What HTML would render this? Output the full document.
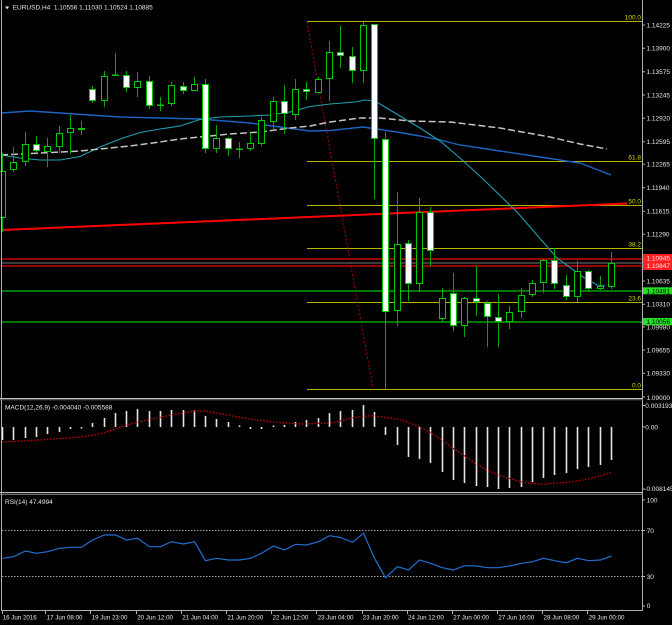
<!DOCTYPE html>
<html><head><meta charset="utf-8"><style>
html,body{margin:0;padding:0;background:#000;}
svg{display:block;}
text{font-family:"Liberation Sans",sans-serif;font-size:6.5px;fill:#e8e8e8;white-space:pre;}
.wk{stroke:#00a800;stroke-width:1;fill:none;}
.u{fill:#fff;stroke:#00c800;stroke-width:1;}
.d{fill:#000;stroke:#00c800;stroke-width:1;}
.dj{fill:#00c800;}
.fib{stroke:#b4b400;stroke-width:1;}
.fl{fill:#d8d800;}
.ax{stroke:#b0b0b0;stroke-width:1;}
</style></head><body>
<svg width="672" height="625" viewBox="0 0 672 625" xmlns="http://www.w3.org/2000/svg">
<rect x="0" y="0" width="672" height="625" fill="#000"/>

<!-- Fibonacci levels -->
<g class="fib">
<line x1="307" y1="21.5" x2="642" y2="21.5"/>
<line x1="307" y1="161.5" x2="642" y2="161.5"/>
<line x1="307" y1="205.5" x2="642" y2="205.5"/>
<line x1="307" y1="248.5" x2="642" y2="248.5"/>
<line x1="307" y1="302.5" x2="642" y2="302.5"/>
<line x1="307" y1="389.5" x2="642" y2="389.5"/>
</g>
<line x1="307" y1="22" x2="373" y2="388" stroke="#b00000" stroke-width="1" stroke-dasharray="2 2"/>

<!-- horizontal lines -->
<line x1="2" y1="259" x2="642" y2="259" stroke="#990000" stroke-width="2"/>
<line x1="2" y1="266" x2="642" y2="266" stroke="#990000" stroke-width="2"/>
<line x1="2" y1="263" x2="642" y2="263" stroke="#787878" stroke-width="1"/>
<line x1="2" y1="291" x2="642" y2="291" stroke="#00c000" stroke-width="1.2"/>
<line x1="2" y1="322" x2="642" y2="322" stroke="#00c000" stroke-width="1.2"/>

<!-- red trendline -->
<line x1="2" y1="230" x2="627" y2="203.5" stroke="#ff0000" stroke-width="2"/>

<!-- MAs -->
<polyline fill="none" stroke="#1c64c4" stroke-width="1.4" points="1,113 30,111 60,113 90,115 120,117 160,118 200,119 250,123 280,127 310,131 330,130.5 363,127 380,129.5 400,132.5 420,136 440,140 460,145 500,151 540,157 580,163 611,175"/>
<polyline fill="none" stroke="#20a0b0" stroke-width="1.1" points="1,155 20,158 40,160 60,160 80,156.5 100,147 120,139 140,132.5 160,129 180,126 200,119.5 220,117 250,116 270,115 290,112 310,106.5 330,104 355,102 365,100 375,101 385,107 400,116 420,128 440,141 460,158 482,178 517,212 557,258 583,277 597,285 605,286"/>
<polyline fill="none" stroke="#c4c4c4" stroke-width="1.5" stroke-dasharray="7 3" points="1,155 40,153 80,151 100,149 130,146 160,142 180,139 200,137 230,134 260,132 290,128 310,126 330,122 360,118 380,118 410,121 450,122 500,128 550,137 580,144 607,149"/>

<!-- wicks -->
<path class="wk" d="M2.5 153V232M13.5 147V172M25.5 132V166M36.5 136V152M47.5 138V167M59.5 126V153M70.5 115V154M81.5 121V135M92.5 86V103M104.5 71V107M115.5 53V75M126.5 71V92M137.5 72V97M149.5 76V109M160.5 97V111M171.5 82V106M183.5 82V94M194.5 77V91M205.5 79V153M216.5 125V153M228.5 137V156M239.5 142V158M250.5 133V151M261.5 117V146M273.5 97V129M284.5 85V134M295.5 79V120M306.5 82V100M318.5 77V93M329.5 41V101M340.5 26V68M352.5 47V83M363.5 22V83M374.5 24V199M385.5 132V389M397.5 192V326M408.5 240V301M419.5 198V292M430.5 207V266M442.5 288V322M453.5 273V331M464.5 297V337M476.5 266V316M487.5 301V347M498.5 294V347M509.5 306V329M521.5 288V318M532.5 280V297M543.5 259V293M554.5 248V289M566.5 275V300M577.5 261V302M588.5 270V292M600.5 276V290M611.5 252V289"/>

<!-- bodies -->
<rect class="d" x="-0.5" y="171.5" width="6" height="46"/>
<rect class="d" x="10.5" y="162.5" width="6" height="7"/>
<rect class="d" x="22.5" y="144.5" width="6" height="17"/>
<rect class="u" x="33.5" y="144.5" width="6" height="6"/>
<rect class="d" x="44.5" y="146.5" width="6" height="5"/>
<rect class="d" x="56.5" y="133.5" width="6" height="13"/>
<rect class="d" x="67.5" y="128.5" width="6" height="4"/>
<rect class="u" x="78.5" y="128.5" width="6" height="1"/>
<rect class="u" x="89.5" y="89.5" width="6" height="11"/>
<rect class="d" x="101.5" y="76.5" width="6" height="24"/>
<rect class="dj" x="112" y="74.5" width="7" height="1.5"/>
<rect class="u" x="123.5" y="75.5" width="6" height="12"/>
<rect class="d" x="134.5" y="81.5" width="6" height="6"/>
<rect class="u" x="146.5" y="81.5" width="6" height="24"/>
<rect class="dj" x="157" y="104.5" width="7" height="1.5"/>
<rect class="d" x="168.5" y="85.5" width="6" height="18"/>
<rect class="u" x="180.5" y="86.5" width="6" height="4"/>
<rect class="d" x="191.5" y="84.5" width="6" height="6"/>
<rect class="u" x="202.5" y="84.5" width="6" height="64"/>
<rect class="d" x="213.5" y="138.5" width="6" height="10"/>
<rect class="u" x="225.5" y="138.5" width="6" height="10"/>
<rect class="dj" x="236" y="148.5" width="7" height="1.5"/>
<rect class="d" x="247.5" y="143.5" width="6" height="5"/>
<rect class="d" x="258.5" y="120.5" width="6" height="23"/>
<rect class="d" x="270.5" y="101.5" width="6" height="20"/>
<rect class="u" x="281.5" y="101.5" width="6" height="12"/>
<rect class="d" x="292.5" y="89.5" width="6" height="25"/>
<rect class="u" x="303.5" y="89.5" width="6" height="2"/>
<rect class="d" x="315.5" y="79.5" width="6" height="13"/>
<rect class="d" x="326.5" y="52.5" width="6" height="26"/>
<rect class="u" x="337.5" y="52.5" width="6" height="3"/>
<rect class="u" x="349.5" y="56.5" width="6" height="14"/>
<rect class="d" x="360.5" y="25.5" width="6" height="45"/>
<rect class="u" x="371.5" y="24.5" width="6" height="114"/>
<rect class="u" x="382.5" y="139.5" width="6" height="172"/>
<rect class="d" x="394.5" y="244.5" width="6" height="66"/>
<rect class="u" x="405.5" y="243.5" width="6" height="40"/>
<rect class="d" x="416.5" y="212.5" width="6" height="71"/>
<rect class="u" x="427.5" y="212.5" width="6" height="38"/>
<rect class="d" x="439.5" y="298.5" width="6" height="20"/>
<rect class="u" x="450.5" y="293.5" width="6" height="32"/>
<rect class="d" x="461.5" y="298.5" width="6" height="27"/>
<rect class="u" x="473.5" y="298.5" width="6" height="3"/>
<rect class="u" x="484.5" y="303.5" width="6" height="13"/>
<rect class="u" x="495.5" y="317.5" width="6" height="4"/>
<rect class="d" x="506.5" y="312.5" width="6" height="9"/>
<rect class="d" x="518.5" y="295.5" width="6" height="16"/>
<rect class="d" x="529.5" y="283.5" width="6" height="11"/>
<rect class="d" x="540.5" y="260.5" width="6" height="22"/>
<rect class="u" x="551.5" y="260.5" width="6" height="23"/>
<rect class="u" x="563.5" y="285.5" width="6" height="11"/>
<rect class="d" x="574.5" y="271.5" width="6" height="25"/>
<rect class="u" x="585.5" y="271.5" width="6" height="17"/>
<rect class="d" x="597.5" y="286.5" width="6" height="2"/>
<rect class="d" x="608.5" y="263.5" width="6" height="23"/>

<!-- fib labels -->
<g class="fl">
<text x="641" y="19.5" text-anchor="end" class="fl">100.0</text>
<text x="641" y="159.5" text-anchor="end" class="fl">61.8</text>
<text x="641" y="203.5" text-anchor="end" class="fl">50.0</text>
<text x="641" y="246.5" text-anchor="end" class="fl">38.2</text>
<text x="641" y="300.5" text-anchor="end" class="fl">23.6</text>
<text x="641" y="387.5" text-anchor="end" class="fl">0.0</text>
</g>

<!-- header -->
<polygon points="5,6.5 9.2,6.5 7.1,9.3" fill="#e8e8e8"/>
<text x="12.7" y="9.3">EURUSD,H4  1.10556 1.11030 1.10524 1.10885</text>

<!-- MACD -->
<path d="M2.5 427V440M13.5 427V440M25.5 427V438M36.5 427V437M47.5 427V434M59.5 427V432M70.5 427V429M81.5 427V428.5M92.5 423V427M104.5 418V427M115.5 413V427M126.5 411V427M137.5 409V427M149.5 411V427M160.5 411V427M171.5 410V427M183.5 410V427M194.5 410V427M205.5 416V427M216.5 419V427M228.5 422V427M239.5 425.5V427M250.5 427V429M261.5 427V429M273.5 425.5V427M284.5 425V427M295.5 422V427M306.5 420V427M318.5 418V427M329.5 413V427M340.5 411V427M352.5 410V427M363.5 405V427M374.5 412V427M385.5 427V435M397.5 427V445M408.5 427V457M419.5 427V459M430.5 427V463M442.5 427V472M453.5 427V480M464.5 427V483M476.5 427V486M487.5 427V487M498.5 427V489M509.5 427V488M521.5 427V487M532.5 427V482M543.5 427V478M554.5 427V475M566.5 427V473M577.5 427V469M588.5 427V467M600.5 427V465M611.5 427V460" stroke="#e4e4e4" stroke-width="1.6" fill="none"/>
<polyline fill="none" stroke="#c00000" stroke-width="1.3" stroke-dasharray="1.6 1.6" points="2,442 40,440 80,437 100,434 113,430 126,425 148,420 171,415 194,411 205,411 227,415 250,419 273,422 300,424 329,423 336,422 351,418.3 363,416.3 374,415.7 385,417.3 397,419 408,422.3 419,426.7 430,432.3 442,440 453,448.3 464,455.7 475,463.3 487,470 498,475 509,478.3 521,481.7 532,483.3 543,484.3 554,483.3 566,482.3 577,481 588,479 600,476 611,472.3"/>
<text x="5" y="409.3">MACD(12,26,9) -0.004040 -0.005588</text>

<!-- RSI -->
<line x1="2" y1="530.5" x2="642" y2="530.5" stroke="#a0a0a0" stroke-width="1" stroke-dasharray="1.5 1.5"/>
<line x1="2" y1="576.5" x2="642" y2="576.5" stroke="#a0a0a0" stroke-width="1" stroke-dasharray="1.5 1.5"/>
<polyline fill="none" stroke="#2070d0" stroke-width="1.2" points="2.5,558.3 13.5,556.7 25.5,551 36.5,553.3 47.5,551.7 59.5,548.3 70.5,547.3 81.5,547.3 92.5,540 104.5,535 115.5,535 126.5,540 137.5,538.3 149.5,546.7 160.5,546.7 171.5,541.7 183.5,544 194.5,541.7 205.5,560.7 216.5,558.3 228.5,560 239.5,560 250.5,558.3 261.5,553.3 273.5,546 284.5,550 295.5,544.3 306.5,545 318.5,541.7 329.5,535.7 340.5,537.5 352.5,542.3 363.5,533.3 374.5,558.3 385.5,577.7 397.5,566.7 408.5,570 419.5,560 430.5,563.3 442.5,567.7 453.5,570 464.5,565.7 476.5,566 487.5,567.7 498.5,567.7 509.5,566 521.5,563.3 532.5,561.7 543.5,558.3 554.5,560.7 566.5,562.7 577.5,558.3 588.5,560.7 600.5,560 611.5,556"/>
<text x="5" y="504">RSI(14) 47.4994</text>

<!-- frame -->
<line class="ax" x1="1.5" y1="0" x2="1.5" y2="611"/>
<line class="ax" x1="642.5" y1="0" x2="642.5" y2="611"/>
<line x1="0" y1="398.5" x2="643" y2="398.5" stroke="#c0c0c0" stroke-width="1"/>
<line x1="0" y1="399.8" x2="643" y2="399.8" stroke="#707070" stroke-width="1"/>
<line x1="0" y1="492.5" x2="643" y2="492.5" stroke="#c0c0c0" stroke-width="1"/>
<line x1="0" y1="494.3" x2="643" y2="494.3" stroke="#909090" stroke-width="1"/>
<line class="ax" x1="1" y1="610.5" x2="643" y2="610.5"/>

<!-- price axis ticks -->
<path stroke="#b0b0b0" stroke-width="1" d="M642 25H645M642 48.3H645M642 71.7H645M642 95H645M642 118.3H645M642 141.7H645M642 164.3H645M642 187.7H645M642 211.3H645M642 234.3H645M642 281H645M642 304.3H645M642 327H645M642 350H645M642 373.3H645M642 397H645M642 405.5H645M642 427H645M642 489H645M642 500H645M642 530.5H645M642 576.5H645M642 606H645"/>

<!-- price labels -->
<text x="646.5" y="27.3">1.14225</text>
<text x="646.5" y="50.6">1.13900</text>
<text x="646.5" y="74">1.13575</text>
<text x="646.5" y="97.3">1.13245</text>
<text x="646.5" y="120.6">1.12920</text>
<text x="646.5" y="144">1.12595</text>
<text x="646.5" y="166.6">1.12265</text>
<text x="646.5" y="190">1.11940</text>
<text x="646.5" y="213.6">1.11615</text>
<text x="646.5" y="236.6">1.11290</text>
<text x="646.5" y="283.3">1.10635</text>
<text x="646.5" y="306.6">1.10310</text>
<text x="646.5" y="329.3">1.09980</text>
<text x="646.5" y="352.3">1.09655</text>
<text x="646.5" y="375.6">1.09330</text>
<text x="646.5" y="399.8">1.09000</text>

<rect x="643" y="254" width="29" height="8" fill="#ff2020"/>
<rect x="643" y="262" width="29" height="8" fill="#ff2020"/>
<text x="646.5" y="260.7" style="fill:#ffe8e8">1.10945</text>
<text x="646.5" y="268" style="fill:#ffe8e8">1.10847</text>
<rect x="643" y="287.3" width="29" height="7" fill="#22e022"/>
<text x="646.5" y="293.5" style="fill:#000">1.10491</text>
<rect x="643" y="318" width="29" height="7.3" fill="#22e022"/>
<text x="646.5" y="324.2" style="fill:#000">1.10056</text>

<!-- MACD / RSI scale labels -->
<text x="645.3" y="407.8">0.003193</text>
<text x="645.3" y="429.5">0.00</text>
<text x="644.3" y="491">-0.008145</text>
<text x="646.7" y="502.5">100</text>
<text x="646.7" y="532.8">70</text>
<text x="646.7" y="578.8">30</text>
<text x="646.7" y="608">0</text>

<!-- time axis -->
<path stroke="#b0b0b0" stroke-width="1" d="M2.5 610V614M45.5 610V614M90.5 610V614M136.5 610V614M181.5 610V614M226.5 610V614M271.5 610V614M316.5 610V614M362.5 610V614M407.5 610V614M452.5 610V614M497.5 610V614M542.5 610V614M587.5 610V614"/>
<g style="font-size:6.2px">
<text x="2.7" y="619.5" style="font-size:6.2px">16 Jun 2016</text>
<text x="46.7" y="619.5" style="font-size:6.2px">17 Jun 08:00</text>
<text x="91.7" y="619.5" style="font-size:6.2px">19 Jun 23:00</text>
<text x="137.2" y="619.5" style="font-size:6.2px">20 Jun 12:00</text>
<text x="182.3" y="619.5" style="font-size:6.2px">21 Jun 04:00</text>
<text x="227.4" y="619.5" style="font-size:6.2px">21 Jun 20:00</text>
<text x="272.5" y="619.5" style="font-size:6.2px">22 Jun 12:00</text>
<text x="317.7" y="619.5" style="font-size:6.2px">23 Jun 04:00</text>
<text x="362.8" y="619.5" style="font-size:6.2px">23 Jun 20:00</text>
<text x="408" y="619.5" style="font-size:6.2px">24 Jun 12:00</text>
<text x="453.2" y="619.5" style="font-size:6.2px">27 Jun 00:00</text>
<text x="498.4" y="619.5" style="font-size:6.2px">27 Jun 16:00</text>
<text x="543.5" y="619.5" style="font-size:6.2px">28 Jun 08:00</text>
<text x="588.7" y="619.5" style="font-size:6.2px">29 Jun 00:00</text>
</g>
</svg>
</body></html>
